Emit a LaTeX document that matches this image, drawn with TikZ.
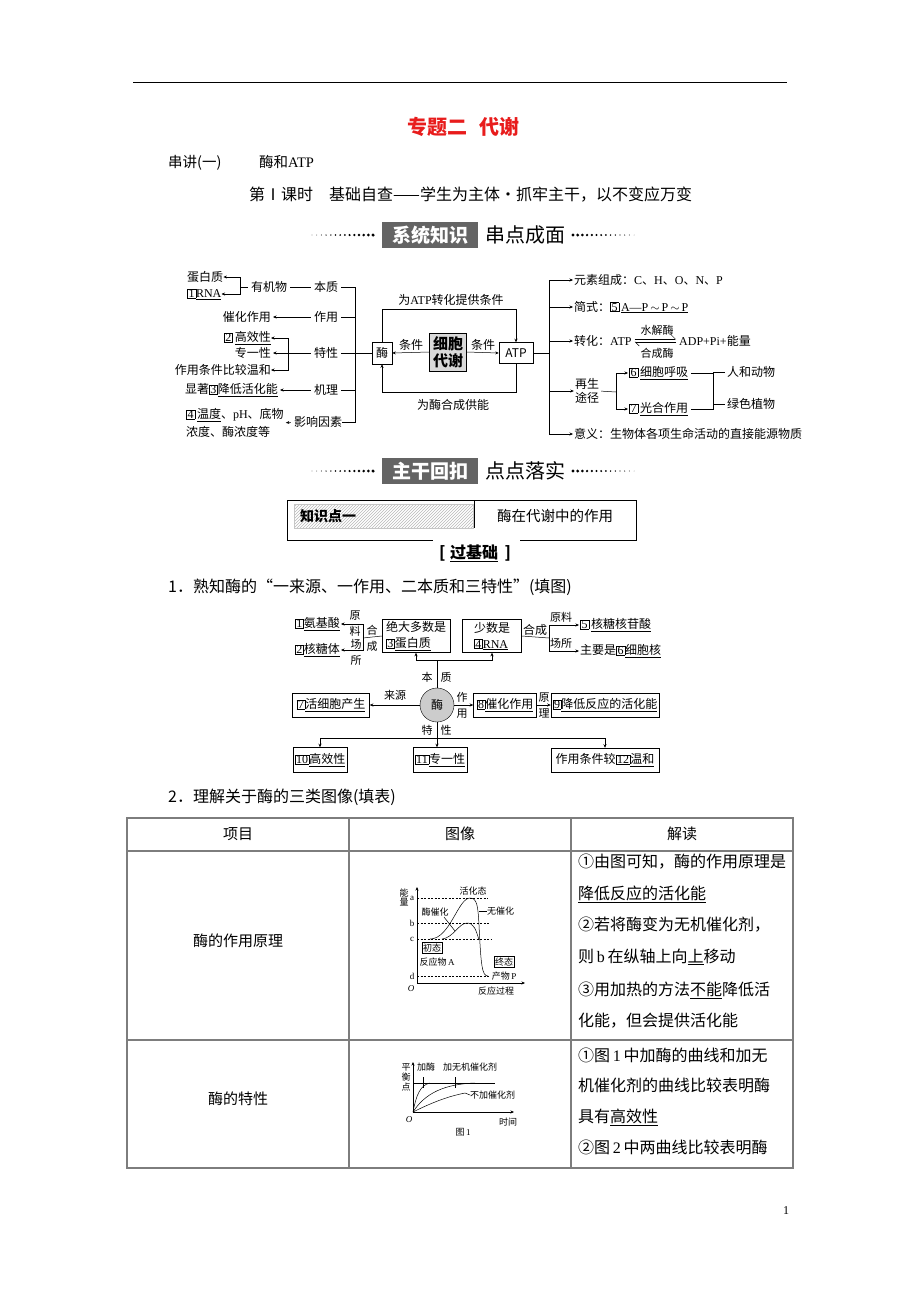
\documentclass[tikz,border=0pt]{standalone}
\usepackage{fontspec}
\setmainfont{Noto Sans CJK SC}
\newfontfamily\latf{Liberation Serif}
\usetikzlibrary{arrows.meta,patterns}
\definecolor{titlered}{RGB}{232,28,28}
\definecolor{bannergray}{RGB}{100,100,100}
\definecolor{tablegray}{RGB}{125,125,125}
\newcommand\rmx[1]{{\latf #1}}
\newcommand\bnum[1]{{\setlength\fboxsep{0.3pt}\setlength\fboxrule{0.5pt}\fbox{\latf\kern0.6pt#1\kern0.6pt}}}

\begin{document}
\begin{tikzpicture}[x=1pt,y=-1pt,
  lab/.style={inner sep=0pt,font=\fontsize{12}{18}\selectfont},
  side/.style={inner sep=0pt,align=center,font=\fontsize{11}{16}\selectfont},
  bx/.style={draw,inner sep=1.5pt,align=left,font=\fontsize{12}{16}\selectfont,line width=0.5pt},
  arr/.style={-{Stealth[length=3.5pt,width=3pt]},line width=0.5pt},
  ln/.style={line width=0.5pt},
  barb/.style={-{Straight Barb[left,length=4pt]},line width=0.5pt},
  body/.style={inner sep=0pt,anchor=west,font=\fontsize{16}{18}\selectfont},
  cell/.style={inner sep=0pt,anchor=west,font=\fontsize{16}{18}\selectfont},
  chartlbl/.style={inner sep=0pt,font=\fontsize{9}{10}\selectfont},
  banner/.style={fill=bannergray,text=white,inner sep=0pt,minimum width=96,minimum height=26,
                 font=\fontsize{19}{22}\selectfont\bfseries},
  bannertext/.style={anchor=west,inner sep=0pt,font=\fontsize{20}{22}\selectfont},
  grid/.style={draw=tablegray,line width=1.2pt}]
\fill[white] (0,0) rectangle (920,1302);
\useasboundingbox (0,0) rectangle (920,1302);

% header
\draw[line width=0.8pt] (133,82) -- (787,82);
\node[font=\fontsize{20}{22}\selectfont\bfseries,text=titlered] (title) at (463,127) {专题二\hspace{0.6em}代谢};
\node[body,font=\fontsize{14.5}{16}\selectfont] (lecture) at (168,163) {串讲(一)\hspace{2.6em}酶和\rmx{ATP}};
\node[body] (lesson) at (249,195) {第Ⅰ课时\hspace{1em}基础自查——学生为主体·抓牢主干，以不变应万变};

% banner 1
\node[banner] (sysbox) at (430,235) {系统知识};
\node[bannertext] (systext) at (485,235) {串点成面};
\foreach \i in {0,...,13}{
  \fill (312+\i*4.7,235) circle[radius={0.35pt+\i*0.1pt}];
  \fill (573+\i*4.7,235) circle[radius={1.65pt-\i*0.1pt}];
}

% diagram 1, left part
\node[lab,anchor=west] (prot) at (187,277) {蛋白质};
\node[lab,anchor=west] (rna) at (187,294) {\bnum{1}\underline{\rmx{RNA}}};
\node[lab] (organic) at (269,287) {有机物};
\node[lab] (essence) at (326,287) {本质};
\node[lab,anchor=east] (catal) at (271,317) {催化作用};
\node[lab] (func) at (326,317) {作用};
\node[lab,anchor=east] (effic) at (271,338) {\bnum{2}\,\underline{高效性}};
\node[lab,anchor=east] (spec) at (271,353) {专一性};
\node[lab,anchor=east] (mild) at (271,370) {作用条件比较温和};
\node[lab] (trait) at (326,353) {特性};
\node[lab,anchor=east] (lower) at (278,390) {显著\bnum{3}\underline{降低活化能}};
\node[lab] (mech) at (326,390) {机理};
\node[lab,anchor=west,align=left] (factor) at (186,423) {\bnum{4}\,\underline{温度}、\rmx{pH}、底物\\浓度、酶浓度等};
\node[lab] (influ) at (318,422) {影响因素};
\coordinate (orgbk) at (240,287);
\coordinate (trbk) at (288,353);
\coordinate (lbkT) at (355,287);
\coordinate (lbkB) at (355,422);
\draw[arr] (orgbk) |- (prot.east);
\draw[arr] (orgbk) |- (rna.east);
\draw[ln,shorten >=3pt] (orgbk) -- (organic.west);
\draw[ln,shorten <=3pt,shorten >=3pt] (organic.east) -- (essence.west);
\draw[arr,shorten <=3pt,shorten >=2pt] (func.west) -- (catal.east);
\draw[arr] (trbk) |- (effic.east);
\draw[arr] (trbk) |- (mild.east);
\draw[arr,shorten <=3pt,shorten >=2pt] (trait.west) -- (spec.east);
\draw[arr,shorten <=3pt,shorten >=2pt] (mech.west) -- (lower.east);
\draw[arr,shorten <=3pt,shorten >=2pt] (influ.west) -- (factor.east);
\draw[ln,shorten <=3pt] (essence.east) -- (lbkT) -- (lbkB) -- (influ.east);
\draw[ln,shorten <=3pt] (func.east) -- (func.east -| lbkT);
\draw[ln,shorten <=3pt] (mech.east) -- (mech.east -| lbkT);

% diagram 1, centre
\node[bx,minimum width=20,minimum height=22,inner sep=0pt] (mei) at (382,353) {酶};
\node[draw,fill=gray!30,minimum width=37,minimum height=38,inner sep=1pt,align=center,
      font=\fontsize{15}{17}\selectfont\bfseries] (meta) at (448,352) {细胞\\代谢};
\node[bx,minimum width=34,minimum height=21,inner sep=0pt] (atp) at (516,353) {ATP};
\coordinate (topline) at (0,309);
\coordinate (botline) at (0,392);
\draw[ln,shorten <=3pt] (trait.east) -- (mei.west);
\draw[arr] (mei.north) -- (mei.north |- topline) -| (atp.north);
\node[lab] (atpcond) at (451,300) {为\rmx{ATP}转化提供条件};
\draw[arr] (meta.west) -- (mei.east);
\draw[arr] (meta.east) -- (atp.west);
\node[lab] (condl) at (411,345) {条件};
\node[lab] (condr) at (483,345) {条件};
\draw[arr] (atp.south) -- (atp.south |- botline) -| (mei.south);
\node[lab] (energy) at (453,405) {为酶合成供能};

% diagram 1, right part
\coordinate (rbkT) at (549,280);
\coordinate (rbkB) at (549,434);
\draw[ln] (atp.east) -- (atp.east -| rbkT);
\draw[ln] (rbkT) -- (rbkB);
\node[lab,anchor=west] (elem) at (574,280) {元素组成：\rmx{C}、\rmx{H}、\rmx{O}、\rmx{N}、\rmx{P}};
\node[lab,anchor=west] (formula) at (574,307) {简式：\bnum{5}\,\underline{\rmx{A—P}\,$\sim$\,\rmx{P}\,$\sim$\,\rmx{P}}};
\node[lab,anchor=west] (conv) at (574,341) {转化：\rmx{ATP}};
\node[lab,anchor=west] (adp) at (679,341) {\rmx{ADP+Pi+}能量};
\node[lab,font=\fontsize{11}{12}\selectfont] (hydro) at (657,330) {水解酶};
\node[lab,font=\fontsize{11}{12}\selectfont] (synth) at (657,353) {合成酶};
\draw[barb,shorten <=3pt,shorten >=3pt] ([yshift=2pt]conv.east) -- ([yshift=2pt]adp.west);
\draw[barb,shorten <=3pt,shorten >=3pt] ([yshift=-1pt]adp.west) -- ([yshift=-1pt]conv.east);
\node[lab,align=center,font=\fontsize{12}{14}\selectfont] (regen) at (587,391) {再生\\途径};
\node[lab,anchor=west] (resp) at (629,373) {\bnum{6}\,\underline{细胞呼吸}};
\node[lab,anchor=west] (photo) at (629,409) {\bnum{7}\,\underline{光合作用}};
\node[lab,anchor=west] (animal) at (727,372) {人和动物};
\node[lab,anchor=west] (plant) at (727,404) {绿色植物};
\node[lab,anchor=west] (meaning) at (574,434) {意义：生物体各项生命活动的直接能源物质};
\coordinate (regbk) at (616,392);
\coordinate (lifebk) at (713,0);
\foreach \n in {elem,formula,conv,regen,meaning}
  \draw[arr,shorten >=1pt] (\n.west -| rbkT) -- (\n.west);
\draw[ln,shorten <=2pt] (regen.east) -- (regbk);
\draw[arr,shorten >=1pt] (regbk) |- (resp.west);
\draw[arr,shorten >=1pt] (regbk) |- (photo.west);
\draw[ln,shorten <=3pt,shorten >=3pt] (resp.east) -- (resp.east -| lifebk) -- (photo.east -| lifebk) -- (photo.east);
\draw[ln,shorten >=2pt] (animal.west -| lifebk) -- (animal.west);
\draw[ln,shorten >=2pt] (plant.west -| lifebk) -- (plant.west);

% banner 2
\node[banner] (mainbox) at (430,471) {主干回扣};
\node[bannertext] (maintext) at (485,471) {点点落实};
\foreach \i in {0,...,13}{
  \fill (312+\i*4.7,471) circle[radius={0.35pt+\i*0.1pt}];
  \fill (573+\i*4.7,471) circle[radius={1.65pt-\i*0.1pt}];
}

% knowledge point
\draw[ln] (287,500) rectangle (636,540);
\fill[pattern=north east lines,pattern color=gray!55] (294,504) rectangle (473,528);
\draw[gray!45,line width=0.3pt] (294,504) rectangle (473,528);
\draw[ln] (474,500) -- (474,528);
\node[anchor=west,inner sep=0pt,font=\fontsize{14}{16}\selectfont\bfseries] (kp) at (300,516) {知识点一};
\node[inner sep=0pt,font=\fontsize{14.5}{16}\selectfont] (kptitle) at (555,516) {酶在代谢中的作用};
\fill[white] (433,537) rectangle (520,543);
\node[inner sep=1pt,font=\fontsize{16}{18}\selectfont\bfseries] (basic) at (475,553) {[\hspace{0.3em}\underline{过基础}\hspace{0.4em}]};

\node[body] (q1) at (168,587) {1．熟知酶的“一来源、一作用、二本质和三特性”(填图)};

% diagram 2
\node[lab,anchor=east] (amino) at (340,624) {\bnum{1}\underline{氨基酸}};
\node[lab,anchor=east] (ribo) at (340,650) {\bnum{2}\underline{核糖体}};
\node[side] (rawl) at (355,624) {原\\料};
\node[side] (sitel) at (356,652) {场\\所};
\node[side] (synl) at (372,638) {合\\成};
\node[bx,minimum width=68,minimum height=33] (protbox) at (416,636) {绝大多数是\\\bnum{3}\underline{蛋白质}};
\node[bx,minimum width=59,minimum height=33] (rnabox) at (492,636) {少数是\\\bnum{4}\underline{\rmx{RNA}}};
\coordinate (synbk) at (363,638);
\draw[arr,shorten >=1pt] (synbk) |- (amino.east);
\draw[arr,shorten >=1pt] (synbk) |- (ribo.east);
\draw[ln] (synbk) -- (protbox.west);
\node[lab,anchor=west] (nucl) at (580,625) {\bnum{5}\,\underline{核糖核苷酸}};
\node[lab,anchor=west] (nucleus) at (580,651) {主要是\bnum{6}\underline{细胞核}};
\coordinate (rnabk) at (549,638);
\draw[ln] (rnabox.east) -- (rnabk);
\node[lab,anchor=south] (synr) at (535,636) {合成};
\draw[arr,shorten >=1pt] (rnabk) |- (nucl.west);
\draw[arr,shorten >=1pt] (rnabk) |- (nucleus.west);
\node[side,anchor=south] (rawr) at (561,623) {原料};
\node[side,anchor=south] (siter) at (561,649) {场所};

\node[circle,draw,fill=gray!40,minimum size=34,inner sep=0pt,font=\fontsize{12}{14}\selectfont] (enz) at (437,705) {酶};
\coordinate (essj) at (437,660);
\draw[ln] (enz.north) -- (essj);
\draw[arr] (essj) -| (protbox.south);
\draw[arr] (essj) -| (rnabox.south);
\node[side] (ben) at (427,677) {本};
\node[side] (zhi) at (446,677) {质};
\node[bx,minimum width=77,minimum height=24] (live) at (331,705) {\bnum{7}\underline{活细胞产生}};
\node[bx,minimum width=63,minimum height=24] (catbox) at (505,705) {\bnum{8}\underline{催化作用}};
\node[bx,minimum width=108,minimum height=24] (actbox) at (605,705) {\bnum{9}\underline{降低反应的活化能}};
\draw[arr] (enz.west) -- (live.east);
\node[side] (src) at (395,695) {来源};
\draw[arr] (enz.east) -- (catbox.west);
\node[side] (zyl) at (462,705) {作\\用};
\draw[arr] (catbox.east) -- (actbox.west);
\node[side] (yll) at (544,705) {原\\理};
\node[bx,minimum width=54,minimum height=25] (hieff) at (320,760) {\bnum{10}\underline{高效性}};
\node[bx,minimum width=54,minimum height=25] (onespec) at (440,760) {\bnum{11}\underline{专一性}};
\node[bx,minimum width=108,minimum height=24] (mildbox) at (605,760) {作用条件较\bnum{12}\underline{温和}};
\coordinate (traitj) at (437,738);
\draw[arr] (enz.south) -- (enz.south |- onespec.north);
\draw[arr] (traitj) -| (hieff.north);
\draw[arr] (traitj) -| (mildbox.north);
\node[side] (te) at (427,730) {特};
\node[side] (xing) at (446,730) {性};

\node[body] (q2) at (168,797) {2．理解关于酶的三类图像(填表)};

% table
\draw[grid] (127,818) rectangle (793,1168);
\draw[grid] (127,851) -- (793,851);
\draw[grid] (127,1040) -- (793,1040);
\draw[grid] (349,818) -- (349,1168);
\draw[grid] (571,818) -- (571,1168);
\node[inner sep=0pt,font=\fontsize{15}{18}\selectfont] (h1) at (238,834) {项目};
\node[inner sep=0pt,font=\fontsize{15}{18}\selectfont] (h2) at (460,834) {图像};
\node[inner sep=0pt,font=\fontsize{15}{18}\selectfont] (h3) at (682,834) {解读};
\node[inner sep=0pt,font=\fontsize{15}{18}\selectfont] (r1) at (238,941) {酶的作用原理};
\node[inner sep=0pt,font=\fontsize{15}{18}\selectfont] (r2) at (238,1099) {酶的特性};
\node[cell] (t11) at (578,862) {①由图可知，酶的作用原理是};
\node[cell] (t12) at (578,894) {\underline{降低反应的活化能}};
\node[cell] (t13) at (578,925) {②若将酶变为无机催化剂，};
\node[cell] (t14) at (578,957) {则\,\rmx{b}\,在纵轴上向\underline{上}移动};
\node[cell] (t15) at (578,990) {③用加热的方法\underline{不能}降低活};
\node[cell] (t16) at (578,1021) {化能，但会提供活化能};
\node[cell] (t21) at (578,1055) {①图\,\rmx{1}\,中加酶的曲线和加无};
\node[cell] (t22) at (578,1085) {机催化剂的曲线比较表明酶};
\node[cell] (t23) at (578,1117) {具有\underline{高效性}};
\node[cell] (t24) at (578,1147) {②图\,\rmx{2}\,中两曲线比较表明酶};

% chart 1
\coordinate (oa) at (417,983);
\draw[arr] (oa) -- (417,887);
\draw[arr] (oa) -- (525,983);
\draw[ln,dash pattern=on 2pt off 1.5pt] (417,898) -- (488,898);
\draw[ln,dash pattern=on 2pt off 1.5pt] (417,923) -- (490,923);
\draw[ln,dash pattern=on 2pt off 1.5pt] (417,939) -- (492,939);
\draw[ln,dash pattern=on 2pt off 1.5pt] (417,976) -- (489,976);
\node[chartlbl] (la) at (412,898) {\rmx{a}};
\node[chartlbl] (lb) at (412,923) {\rmx{b}};
\node[chartlbl] (lc) at (412,939) {\rmx{c}};
\node[chartlbl] (ld) at (412,976) {\rmx{d}};
\node[chartlbl] (lo) at (411,989) {\rmx{\itshape O}};
\node[chartlbl,align=center,font=\fontsize{9}{9}\selectfont] (eng) at (404,897) {能\\量};
\node[chartlbl] (act) at (473,891) {活化态};
\node[chartlbl,anchor=west] (uncat) at (487,911) {无催化};
\node[chartlbl] (enzcat) at (435,912) {酶催化};
\node[chartlbl,draw,inner sep=1.2pt] (initst) at (432,948) {初态};
\node[chartlbl] (reac) at (437,962) {反应物\,\rmx{A}};
\node[chartlbl,draw,inner sep=1.2pt] (finst) at (504,962) {终态};
\node[chartlbl] (prod) at (504,976) {产物\,\rmx{P}};
\node[chartlbl] (proc) at (496,991) {反应过程};
\draw[ln] (430,939) .. controls (450,939) and (458,898) .. (470,898)
          .. controls (477,898) and (478,906) .. (479,925)
          .. controls (481,966) and (482,976) .. (488,976);
\draw[ln] (442,939) .. controls (453,938) and (459,923) .. (467,923)
          .. controls (474,923) and (476,930) .. (479,940);
\draw[ln] (479,911) -- (uncat.west);
\draw[ln] (444,917) -- (455,931);

% chart 2
\coordinate (ob) at (413,1112);
\draw[arr] (ob) -- (413,1062);
\draw[arr] (ob) -- (514,1112);
\draw[ln] (413,1083) -- (495,1083);
\draw[ln] (ob) .. controls (416,1096) and (420,1085) .. (430,1083);
\draw[ln] (ob) .. controls (425,1093) and (445,1084) .. (475,1083);
\draw[ln] (ob) .. controls (435,1101) and (450,1096) .. (465,1093);
\node[chartlbl,align=center,font=\fontsize{9}{10}\selectfont] (eqp) at (406,1077) {平\\衡\\点};
\node[chartlbl,anchor=west] (addenz) at (417,1067) {加酶};
\node[chartlbl,anchor=west] (addinorg) at (443,1067) {加无机催化剂};
\node[chartlbl,anchor=west] (nocat) at (470,1095) {不加催化剂};
\draw[ln] (423,1077) -- (423,1088);
\draw[ln] (455,1077) -- (455,1088);
\draw[ln] (465,1093) -- (nocat.west);
\node[chartlbl] (lo2) at (409,1120) {\rmx{\itshape O}};
\node[chartlbl] (time) at (508,1122) {时间};
\node[chartlbl] (fig1) at (463,1132) {图\,\rmx{1}};

\node[inner sep=0pt,font=\fontsize{12}{14}\selectfont] (pagenum) at (786,1211) {\rmx{1}};
\end{tikzpicture}
\end{document}
